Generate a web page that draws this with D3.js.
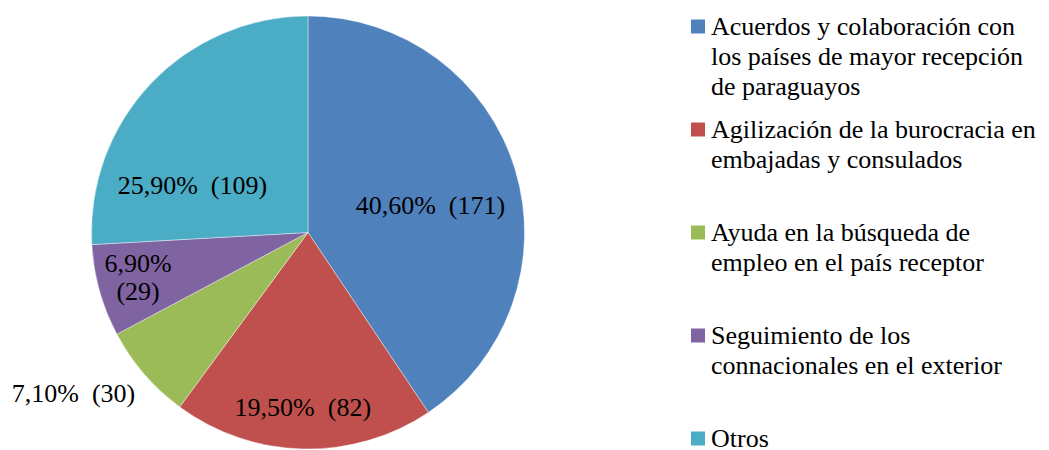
<!DOCTYPE html>
<html>
<head>
<meta charset="utf-8">
<script src="https://cdn.jsdelivr.net/npm/d3@7"></script>
</head>
<body style="margin:0">
<svg id="chart" width="1049" height="450"></svg>
<script>
const categories = [
    "Acuerdos y colaboración con los países de mayor recepción de paraguayos",
    "Agilización de la burocracia en embajadas y consulados",
    "Ayuda en la búsqueda de empleo en el país receptor",
    "Seguimiento de los connacionales en el exterior",
    "Otros"
];
const counts = [171, 82, 30, 29, 109];
const percents = ["40,60%", "19,50%", "7,10%", "6,90%", "25,90%"];

// legend lines as wrapped in the original
const legendLines = [
    ["Acuerdos y colaboración con", "los países de mayor recepción", "de paraguayos"],
    ["Agilización de la burocracia en", "embajadas y consulados"],
    ["Ayuda en la búsqueda de", "empleo en el país receptor"],
    ["Seguimiento de los", "connacionales en el exterior"],
    ["Otros"]
];

const colours = ["#4F81BD", "#C0504D", "#9BBB59", "#8064A2", "#4BACC6"];

const radius = 216.5,
    cx = 308,
    cy = 232.5;

const FONT = '"Liberation Serif", "Tinos", "Times New Roman"';

const svg = d3.select("#chart");

const pie = d3.pie().sort(null).value(d => d);
const arcs = pie(counts);
const arc = d3.arc().innerRadius(0).outerRadius(radius);

// slices
svg.append("g")
    .attr("transform", `translate(${cx},${cy})`)
    .selectAll("path")
    .data(arcs)
    .join("path")
    .attr("d", arc)
    .attr("fill", (d, i) => colours[i])
    .attr("stroke", "#fff")
    .attr("stroke-opacity", 0.5)
    .attr("stroke-width", 0.8);

// label placement: radius and angle shift (deg) from slice middle
const labelLayout = [
    {r: 125.5, shift: 4.2},
    {r: 175, shift: 0.4},
    {r: 284, shift: 6.5},
    {r: 176, shift: 0.5},
    {r: 125, shift: -21}
];

// one text per line; the small purple slice wraps its label in two lines
let labelRows = [];
arcs.forEach((d, i) => {
    const a = (d.startAngle + d.endAngle) / 2 + labelLayout[i].shift * Math.PI / 180;
    const x = cx + Math.sin(a) * labelLayout[i].r;
    const y = cy - Math.cos(a) * labelLayout[i].r;
    if (i === 3) {
        labelRows.push({x: x, y: y - 6.5, t: percents[i]});
        labelRows.push({x: x, y: y + 21.5, t: "(" + counts[i] + ")"});
    } else {
        labelRows.push({x: x, y: y + 9, t: percents[i] + "\u00a0\u00a0(" + counts[i] + ")"});
    }
});

svg.selectAll("text.lbl")
    .data(labelRows)
    .join("text")
    .attr("class", "lbl")
    .attr("x", d => d.x)
    .attr("y", d => d.y)
    .attr("text-anchor", "middle")
    .attr("font-size", 26)
    .attr("fill", "#000")
    .style("font-family", FONT)
    .text(d => d.t);

// legend
const legendX = 691,
    legendTop = 35,
    legendStep = 103,
    lineH = 30;

svg.selectAll("rect.key")
    .data(colours)
    .join("rect")
    .attr("class", "key")
    .attr("x", legendX)
    .attr("y", (d, i) => legendTop + i * legendStep - 15.5)
    .attr("width", 14)
    .attr("height", 14)
    .attr("fill", d => d);

let legendRows = [];
legendLines.forEach((lines, i) => {
    lines.forEach((t, j) => legendRows.push({y: legendTop + i * legendStep + j * lineH, t: t}));
});

svg.selectAll("text.leg")
    .data(legendRows)
    .join("text")
    .attr("class", "leg")
    .attr("x", legendX + 20)
    .attr("y", d => d.y)
    .attr("font-size", 26)
    .attr("fill", "#000")
    .style("font-family", FONT)
    .text(d => d.t);
</script>
</body>
</html>
